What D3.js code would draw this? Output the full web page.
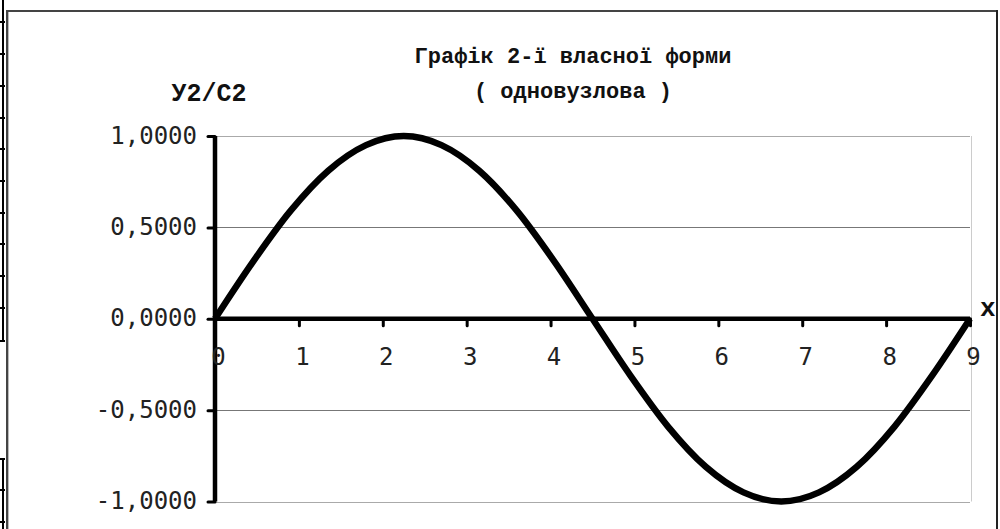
<!DOCTYPE html>
<html>
<head>
<meta charset="utf-8">
<script src="https://cdn.jsdelivr.net/npm/d3@7"></script>
<style>
  html, body { margin: 0; padding: 0; background: #fff; }
  svg { display: block; }
</style>
</head>
<body>
<svg id="chart" width="1000" height="529"></svg>
<script>
// ---- data ----
const xValues = [0, 0.45, 0.9, 1.35, 1.8, 2.25, 2.7, 3.15, 3.6, 4.05, 4.5,
                 4.95, 5.4, 5.85, 6.3, 6.75, 7.2, 7.65, 8.1, 8.55, 9];
const yValues = [0, 0.31, 0.59, 0.81, 0.95, 1.00, 0.95, 0.81, 0.59, 0.31, 0,
                 -0.31, -0.59, -0.81, -0.95, -1.00, -0.95, -0.81, -0.59, -0.31, 0];
const xTicks = [0, 1, 2, 3, 4, 5, 6, 7, 8, 9];
const xTickLabels = ["0", "1", "2", "3", "4", "5", "6", "7", "8", "9"];
const yTicks = [1, 0.5, 0, -0.5, -1];
const yTickLabels = ["1,0000", "0,5000", "0,0000", "-0,5000", "-1,0000"];
const titleLines = ["Графік 2-ї власної форми", "( одновузлова )"];
const yLabel = "У2/С2";
const xLabel = "x";

const svg = d3.select("#chart");

// ---- page frame (document table borders) ----
const deco = svg.append("g");
deco.append("line").attr("x1", 3).attr("x2", 3).attr("y1", 0).attr("y2", 342)
  .attr("stroke", "#000").attr("stroke-width", 2);
deco.append("line").attr("x1", 3).attr("x2", 3).attr("y1", 459).attr("y2", 529)
  .attr("stroke", "#000").attr("stroke-width", 2);
[22, 54, 86, 118, 149, 181, 213, 244, 276, 308, 341, 459, 490, 522].forEach(yy => {
  deco.append("line").attr("x1", 0).attr("x2", 5).attr("y1", yy).attr("y2", yy)
    .attr("stroke", "#000").attr("stroke-width", 2);
});
// chart frame
deco.append("line").attr("x1", 7).attr("x2", 7).attr("y1", 10).attr("y2", 529)
  .attr("stroke", "#444").attr("stroke-width", 2);
deco.append("line").attr("x1", 8.5).attr("x2", 8.5).attr("y1", 12).attr("y2", 529)
  .attr("stroke", "#bbb").attr("stroke-width", 1);
deco.append("line").attr("x1", 6).attr("x2", 998).attr("y1", 11).attr("y2", 11)
  .attr("stroke", "#444").attr("stroke-width", 2);
deco.append("line").attr("x1", 997).attr("x2", 997).attr("y1", 10).attr("y2", 529)
  .attr("stroke", "#222").attr("stroke-width", 2);

// ---- scales ----
const x = d3.scaleLinear().domain([0, 9]).range([215, 970]);
const y = d3.scaleLinear().domain([-1, 1]).range([501.5, 136]);

// ---- gridlines ----
const grid = svg.append("g");
yTicks.filter(v => v !== 0).forEach(v => {
  grid.append("line")
    .attr("x1", x(0)).attr("x2", x(9))
    .attr("y1", Math.round(y(v)) + 0.5).attr("y2", Math.round(y(v)) + 0.5)
    .attr("stroke", Math.abs(v) === 1 ? "#aaaaaa" : "#777777")
    .attr("stroke-width", 1);
});
// right plot border
grid.append("line")
  .attr("x1", x(9) + 1.5).attr("x2", x(9) + 1.5)
  .attr("y1", y(1)).attr("y2", y(-1))
  .attr("stroke", "#cccccc").attr("stroke-width", 1);

// ---- y axis ----
const yAxis = d3.axisLeft(y).tickValues(yTicks).tickSize(7).tickSizeOuter(0)
  .tickFormat((d, i) => yTickLabels[i]).tickPadding(11);
const gy = svg.append("g").attr("transform", `translate(${x(0)},0)`).call(yAxis);
gy.select(".domain").attr("stroke", "#000").attr("stroke-width", 4.5)
  .attr("d", `M0,${y(1)}V${y(-1)}`);
gy.selectAll(".tick line").attr("stroke", "#000").attr("stroke-width", 3)
  .attr("stroke-linecap", "round");
gy.selectAll(".tick text")
  .attr("font-family", "DejaVu Sans Mono")
  .attr("font-size", 24)
  .attr("fill", "#222")
  .attr("dy", "0.3em");

// ---- x axis ----
const xAxis = d3.axisBottom(x).tickValues(xTicks).tickSize(7).tickSizeOuter(0)
  .tickFormat((d, i) => xTickLabels[i]).tickPadding(22);
const gx = svg.append("g").attr("transform", `translate(0,${y(0)})`).call(xAxis);
gx.select(".domain").attr("stroke", "#000").attr("stroke-width", 4.5)
  .attr("d", `M${x(0)},0H${x(9)}`);
gx.selectAll(".tick line").attr("stroke", "#000").attr("stroke-width", 3)
  .attr("stroke-linecap", "round");
gx.selectAll(".tick text")
  .attr("font-family", "DejaVu Sans Mono")
  .attr("font-size", 24)
  .attr("fill", "#222")
  .attr("dx", 3);

// ---- curve ----
const pts = xValues.map((v, i) => [v, yValues[i]]);
svg.append("path")
  .datum(pts)
  .attr("fill", "none")
  .attr("stroke", "#000")
  .attr("stroke-width", 6.5)
  .attr("stroke-linejoin", "round")
  .attr("stroke-linecap", "butt")
  .attr("d", d3.line().x(d => x(d[0])).y(d => y(d[1])).curve(d3.curveMonotoneX));

// ---- texts ----
const titleFont = "Liberation Mono";
svg.append("text").attr("x", 573).attr("y", 63)
  .attr("text-anchor", "middle").attr("font-family", titleFont)
  .attr("font-weight", "bold").attr("font-size", 22).attr("fill", "#111")
  .text(titleLines[0]);
svg.append("text").attr("x", 573).attr("y", 98)
  .attr("text-anchor", "middle").attr("font-family", titleFont)
  .attr("font-weight", "bold").attr("font-size", 22).attr("fill", "#111")
  .text(titleLines[1]);
svg.append("text").attr("x", 209).attr("y", 101)
  .attr("text-anchor", "middle").attr("font-family", titleFont)
  .attr("font-weight", "bold").attr("font-size", 25).attr("fill", "#111")
  .text(yLabel);
svg.append("text").attr("x", 980).attr("y", 316)
  .attr("font-family", titleFont)
  .attr("font-weight", "bold").attr("font-size", 26).attr("fill", "#111")
  .text(xLabel);
</script>
</body>
</html>
